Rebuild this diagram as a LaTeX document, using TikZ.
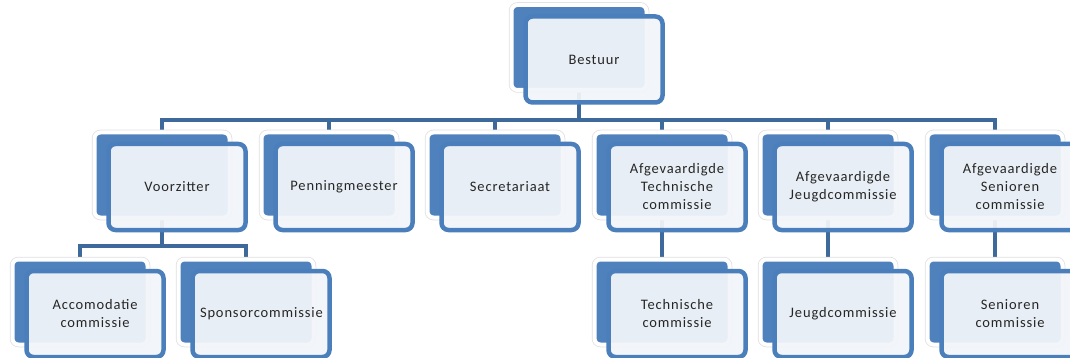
\documentclass[tikz,border=0pt]{standalone}
\usepackage{fontspec}
\newfontfamily\lblfont[LetterSpace=6]{Carlito}
\usetikzlibrary{calc}
\definecolor{backblue}{HTML}{4F81BD}
\definecolor{frontfill}{HTML}{F2F5F9}
\definecolor{frontline}{HTML}{4B7FBC}
\definecolor{connblue}{HTML}{3D6A9B}
\begin{document}
\begin{tikzpicture}[x=1pt,y=-1pt,
  backbox/.style={rectangle, rounded corners=6pt, minimum width=135pt, minimum height=85pt,
    fill=backblue, draw=white, line width=4pt, inner sep=0pt,
    preaction={draw=black!12, line width=5.5pt}},
  frontbox/.style={rectangle, rounded corners=7pt, minimum width=137pt, minimum height=86pt,
    fill=frontfill, fill opacity=0.94, text opacity=1, draw=frontline, line width=4.5pt,
    text width=122pt, align=center, inner sep=0pt,
    font=\lblfont\fontsize{14.5}{18}\selectfont, text=black!85},
  conn/.style={draw=connblue, line width=4pt, line join=miter}
]
\clip (0,0) rectangle (1070,358);
\fill[white] (0,0) rectangle (1070,358);
\coordinate (bus) at (0,120);
\coordinate (sub) at (0,246);
\path
  (579,47.5) coordinate (pbestuur)
  (162,175) coordinate (pvz)
  (329,175) coordinate (ppm)
  (495,175) coordinate (psec)
  (662,175) coordinate (patc)
  (828,175) coordinate (pajc)
  (995,175) coordinate (pasc)
  (80,302) coordinate (pacc)
  (246,302) coordinate (pspo)
  (662,302) coordinate (ptc)
  (828,302) coordinate (pjc)
  (995,302) coordinate (psc);
% placeholder nodes for the back boxes, used by the connectors
\foreach \n in {bestuur,vz,pm,sec,atc,ajc,asc,acc,spo,tc,jc,sc}
  \path (p\n) node[minimum width=135pt,minimum height=85pt,inner sep=0pt] (\n B) {};
% connectors first (they show faintly through the front boxes)
\draw[conn] (bestuurB.south) -- (bestuurB.south |- bus);
\draw[conn] (vzB.north) |- (bus -| ascB) -- (ascB.north);
\foreach \n in {pm,sec,atc,ajc}
  \draw[conn] (\n B.north) -- (\n B.north |- bus);
\draw[conn] (vzB.south) -- (vzB.south |- sub);
\draw[conn] (accB.north) |- (sub -| spoB) -- (spoB.north);
\draw[conn] (atcB.south) -- (tcB.north);
\draw[conn] (ajcB.south) -- (jcB.north);
\draw[conn] (ascB.south) -- (scB.north);
% boxes
\newcommand{\orgbox}[2]{%
  \node[backbox] at (p#1) {};
  \node[frontbox] (#1) at ($(p#1)+(15,12)$) {#2};
}
\orgbox{bestuur}{Bestuur}
\orgbox{vz}{Voorzitter}
\orgbox{pm}{Penningmeester}
\orgbox{sec}{Secretariaat}
\orgbox{atc}{Afgevaardigde\\Technische\\commissie}
\orgbox{ajc}{Afgevaardigde\\Jeugdcommissie}
\orgbox{asc}{Afgevaardigde\\Senioren\\commissie}
\orgbox{acc}{Accomodatie\\commissie}
\orgbox{spo}{Sponsorcommissie}
\orgbox{tc}{Technische\\commissie}
\orgbox{jc}{Jeugdcommissie}
\orgbox{sc}{Senioren\\commissie}
\end{tikzpicture}
\end{document}
